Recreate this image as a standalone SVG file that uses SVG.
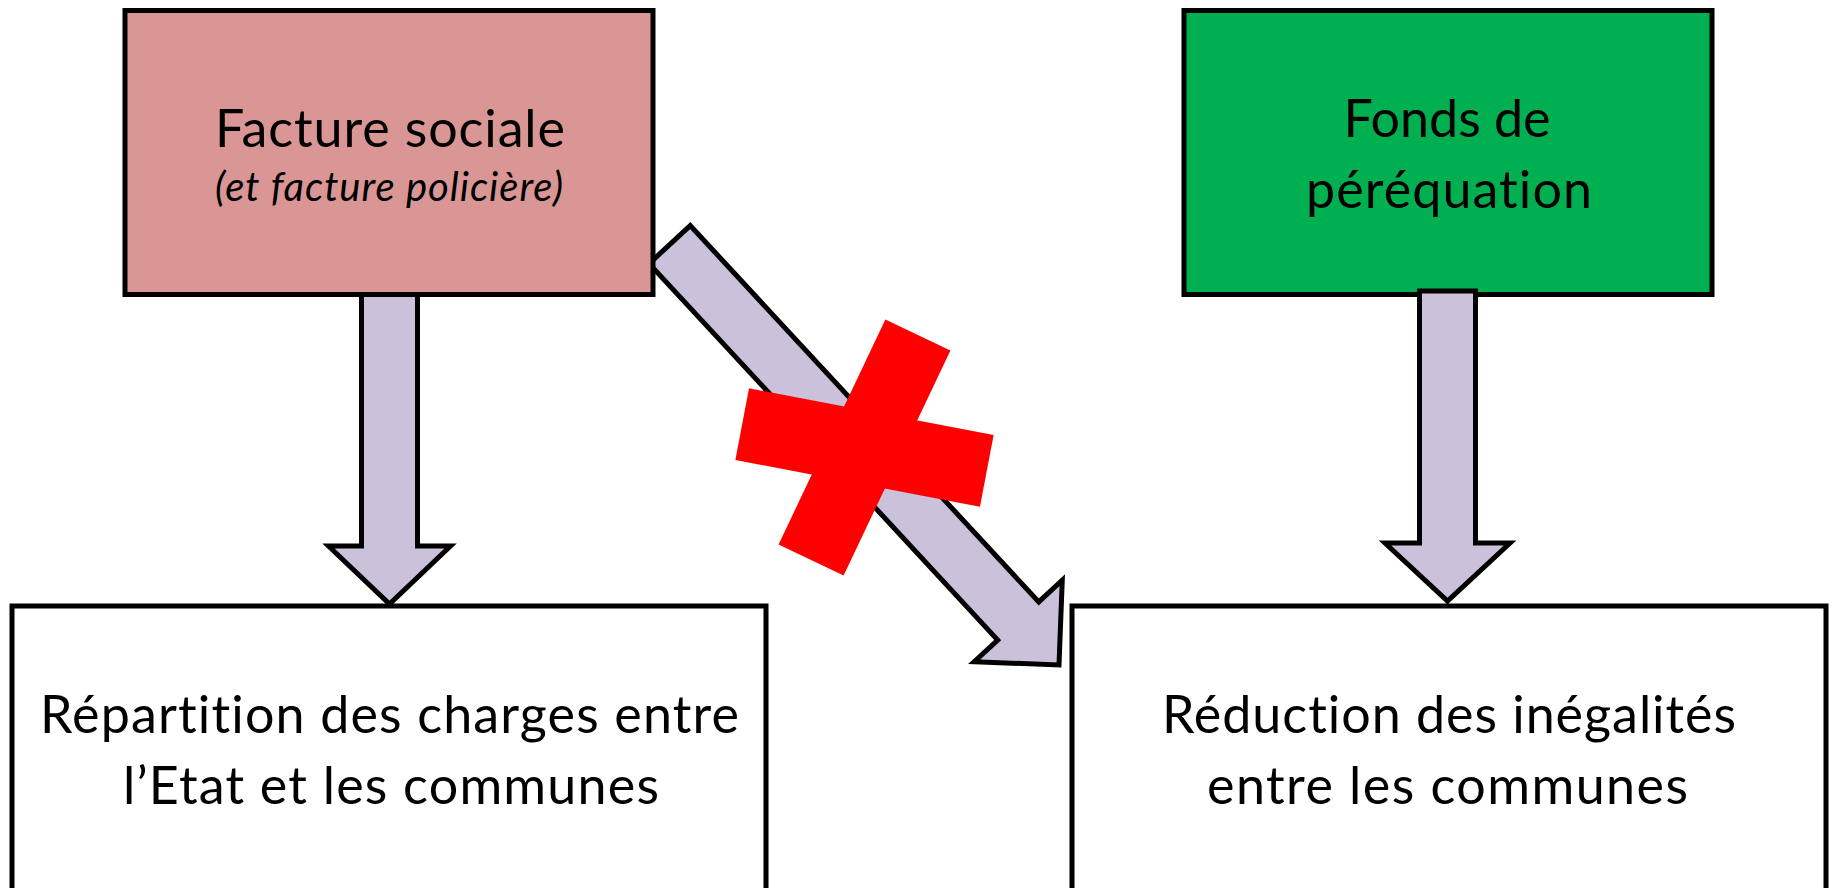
<svg xmlns="http://www.w3.org/2000/svg" width="1835" height="888" viewBox="0 0 1835 888">
  <style>
    .box { stroke: #000; stroke-width: 5; stroke-linejoin: miter; }
    .arrow { fill: #CCC1DA; stroke: #000; stroke-width: 5; stroke-linejoin: miter; stroke-miterlimit: 10; }
    .lbl { font-family: Lato, "Liberation Sans", sans-serif; font-size: 52px; fill: #000; text-anchor: middle; font-variant-ligatures: none; }
    .sub { font-family: Lato, "Liberation Sans", sans-serif; font-size: 40px; font-style: italic; fill: #000; text-anchor: middle; font-variant-ligatures: none; }
    .cross { fill: #FF0000; }
  </style>
  <rect width="1835" height="888" fill="#fff"/>

  <g id="node-repartition">
    <rect class="box" x="12" y="606" width="754" height="300" fill="#fff"/>
    <text class="lbl" x="389.5" y="733" textLength="699">Répartition des charges entre</text>
    <text class="lbl" x="391" y="804" textLength="536">l’Etat et les communes</text>
  </g>
  <g id="node-reduction">
    <rect class="box" x="1072" y="606" width="754" height="300" fill="#fff"/>
    <text class="lbl" x="1449" y="733" textLength="574">Réduction des inégalités</text>
    <text class="lbl" x="1447.5" y="804" textLength="481">entre les communes</text>
  </g>

  <g id="connectors">
    <polygon class="arrow" points="361.5,292 417.5,292 417.5,546 450.5,546 389.5,604 328.5,546 361.5,546"/>
    <polygon class="arrow" transform="translate(1059,665) rotate(47.2)" points="0,0 -60,-60 -60,-28 -573,-28 -573,28 -60,28 -60,60"/>
  </g>

  <g id="node-facture-sociale">
    <rect class="box" x="125" y="10.5" width="528" height="284" fill="#D99694"/>
    <text class="lbl" x="390" y="147" textLength="350">Facture sociale</text>
    <text class="sub" x="389" y="201" textLength="348">(et facture policière)</text>
  </g>
  <g id="node-fonds-perequation">
    <rect class="box" x="1184" y="10.5" width="528" height="284" fill="#00B050"/>
    <text class="lbl" x="1447" y="137" textLength="207">Fonds de</text>
    <text class="lbl" x="1449" y="208" textLength="286">péréquation</text>
  </g>

  <g id="connector-fonds">
    <polygon class="arrow" points="1419.5,291 1475.5,291 1475.5,543 1510,543 1447.5,601 1385,543 1419.5,543"/>
  </g>

  <g id="cross" transform="translate(864.5,447.5)">
    <rect class="cross" x="-36" y="-124.5" width="72" height="249" transform="rotate(25.4)"/>
    <rect class="cross" x="-124.5" y="-36.5" width="249" height="73" transform="rotate(10.8)"/>
  </g>
</svg>
